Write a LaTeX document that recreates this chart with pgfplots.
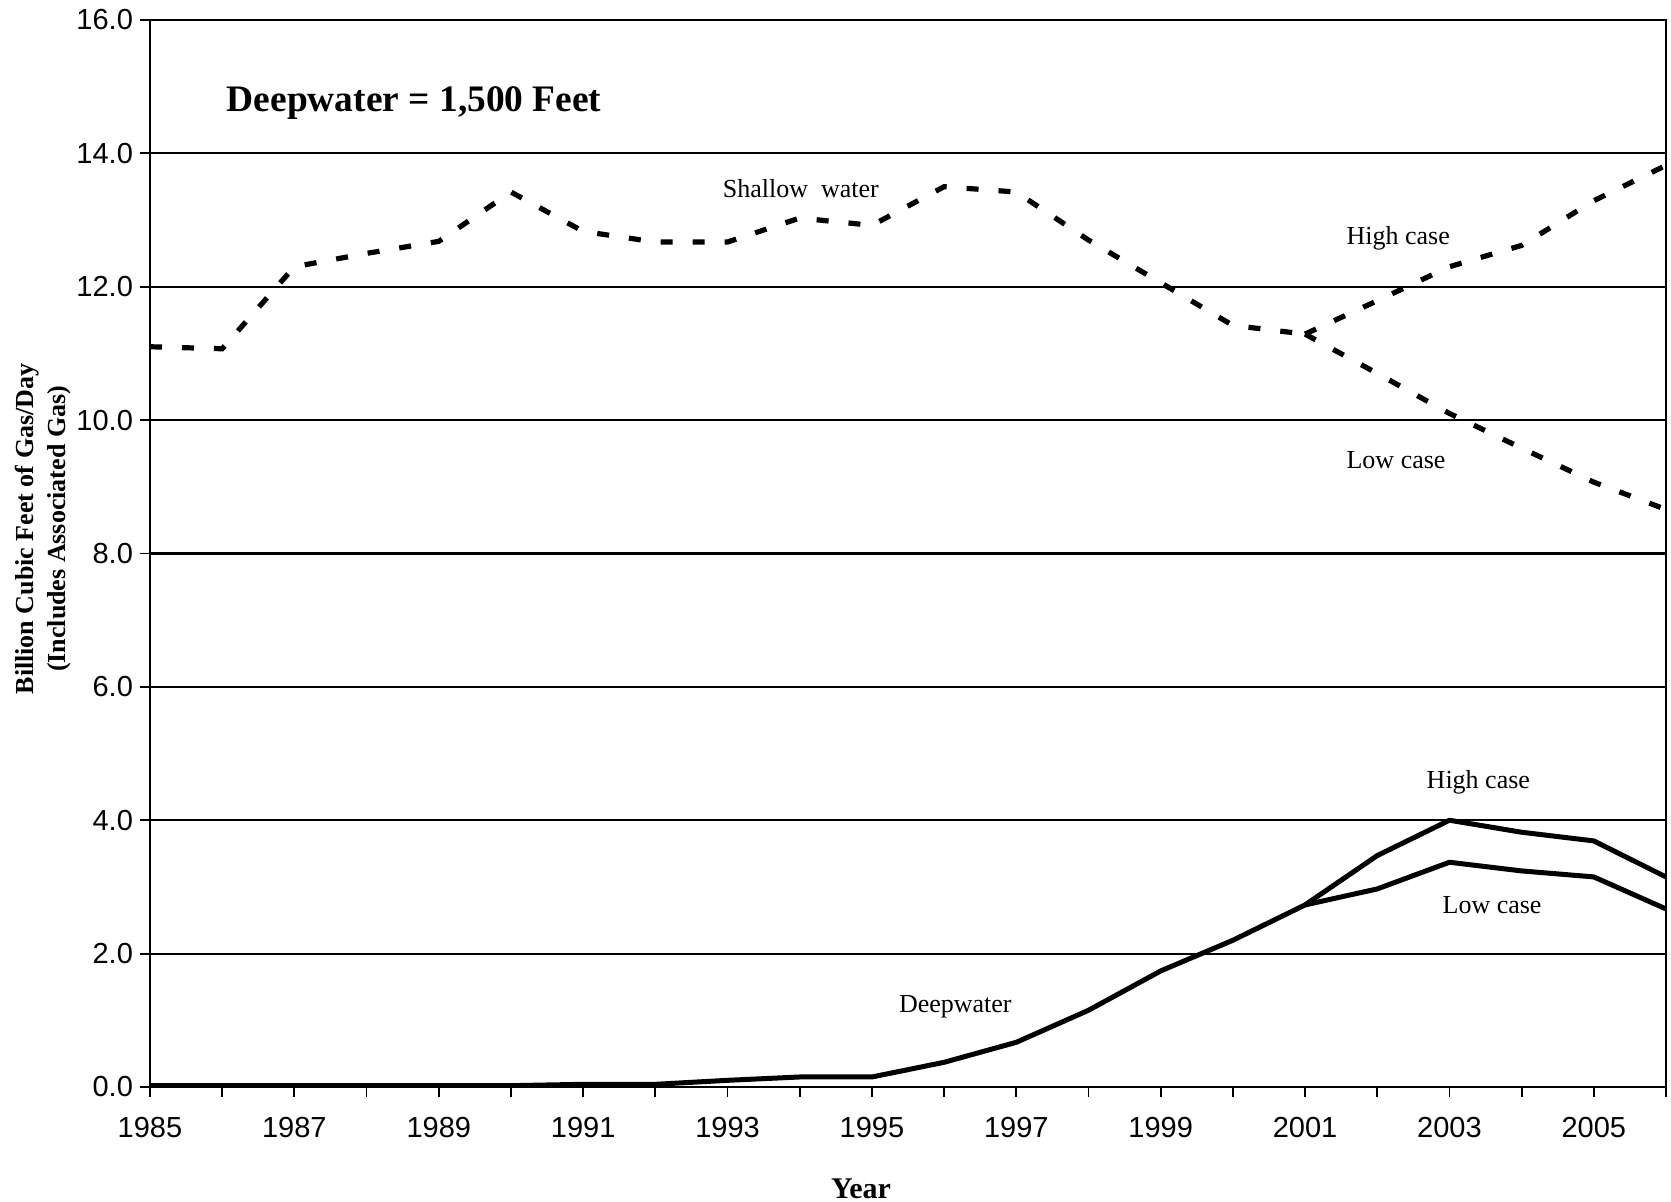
\documentclass[border=0pt]{standalone}
\usepackage{fontspec}
\setmainfont{Liberation Serif}
\newfontfamily\arial{Liberation Sans}
\usepackage{pgfplots}
\pgfplotsset{compat=1.18}
\begin{document}
\begin{tikzpicture}
\begin{axis}[
  scale only axis, width=758pt, height=533.5pt,
  xmin=1985, xmax=2006, ymin=0, ymax=16,
  axis line style={black, line width=1pt},
  xtick={1985,1987,1989,1991,1993,1995,1997,1999,2001,2003,2005},
  xticklabels={1985,1987,1989,1991,1993,1995,1997,1999,2001,2003,2005},
  minor xtick={1986,1988,1990,1992,1994,1996,1998,2000,2002,2004,2006},
  ytick={0,2,4,6,8,10,12,14,16},
  yticklabels={0.0,2.0,4.0,6.0,8.0,10.0,12.0,14.0,16.0},
  tick align=outside, tick pos=left,
  major tick length=5pt, minor tick length=5pt,
  every tick/.style={black, line width=0.9pt},
  every minor tick/.style={black, line width=0.9pt},
  ymajorgrids, grid style={black, line width=1.1pt},
  ticklabel style={font=\arial\fontsize{14.5}{17}\selectfont},
  xticklabel style={yshift=-6.5pt},
  xlabel={Year},
  xlabel style={font=\bfseries\fontsize{15}{17}\selectfont, at={(axis description cs:0.469,-0.095)}, anchor=center},
  ylabel={Billion Cubic Feet of Gas/Day\\(Includes Associated Gas)},
  ylabel style={font=\bfseries\fontsize{13}{16}\selectfont, align=center, at={(axis description cs:-0.0706,0.523)}, anchor=center, rotate=0},
]
% Shallow water (base)
\addplot[black, line width=2.6pt, dash pattern=on 6pt off 10pt, line cap=butt] coordinates {
(1985,11.10) (1986,11.07) (1987,12.30) (1988,12.50) (1989,12.68) (1990,13.42)
(1991,12.83) (1992,12.67) (1993,12.67) (1994,13.03) (1995,12.92) (1996,13.50)
(1997,13.42) (1998,12.70) (1999,12.06) (2000,11.42) (2001,11.29)};
% Shallow water high case
\addplot[black, line width=2.6pt, dash pattern=on 6pt off 10pt, line cap=butt] coordinates {
(2001,11.29) (2002,11.79) (2003,12.30) (2004,12.62) (2005,13.29) (2006,13.82)};
% Shallow water low case
\addplot[black, line width=2.6pt, dash pattern=on 6pt off 10pt, line cap=butt] coordinates {
(2001,11.29) (2002,10.70) (2003,10.10) (2004,9.58) (2005,9.07) (2006,8.66)};
% Deepwater base
\addplot[black, line width=2.5pt, line join=round] coordinates {
(1985,0.02) (1986,0.02) (1987,0.02) (1988,0.02) (1989,0.02) (1990,0.02)
(1991,0.04) (1992,0.04) (1993,0.10) (1994,0.15) (1995,0.15) (1996,0.37)
(1997,0.67) (1998,1.15) (1999,1.74) (2000,2.20) (2001,2.73)};
% Deepwater high case
\addplot[black, line width=2.5pt, line join=round] coordinates {
(2001,2.73) (2002,3.47) (2003,4.00) (2004,3.82) (2005,3.69) (2006,3.15)};
% Deepwater low case
\addplot[black, line width=2.5pt, line join=round] coordinates {
(2001,2.73) (2002,2.97) (2003,3.37) (2004,3.24) (2005,3.15) (2006,2.67)};

\node[anchor=base west, font=\bfseries\fontsize{18.7}{21}\selectfont, inner sep=0pt] at (axis cs:1986.06,14.63) {Deepwater = 1,500 Feet};
\node[anchor=base west, font=\fontsize{13}{15}\selectfont, inner sep=0pt] at (axis cs:1992.93,13.34) {Shallow\ \ water};
\node[anchor=base west, font=\fontsize{13}{15}\selectfont, inner sep=0pt] at (axis cs:2001.57,12.64) {High case};
\node[anchor=base west, font=\fontsize{13}{15}\selectfont, inner sep=0pt] at (axis cs:2001.57,9.27) {Low case};
\node[anchor=base west, font=\fontsize{13}{15}\selectfont, inner sep=0pt] at (axis cs:2002.68,4.47) {High case};
\node[anchor=base west, font=\fontsize{13}{15}\selectfont, inner sep=0pt] at (axis cs:2002.90,2.60) {Low case};
\node[anchor=base west, font=\fontsize{13}{15}\selectfont, inner sep=0pt] at (axis cs:1995.37,1.12) {Deepwater};
\end{axis}
\pgfresetboundingbox
\useasboundingbox (-75pt,-57.5pt) rectangle (760.5pt,543.5pt);
\end{tikzpicture}
\end{document}
